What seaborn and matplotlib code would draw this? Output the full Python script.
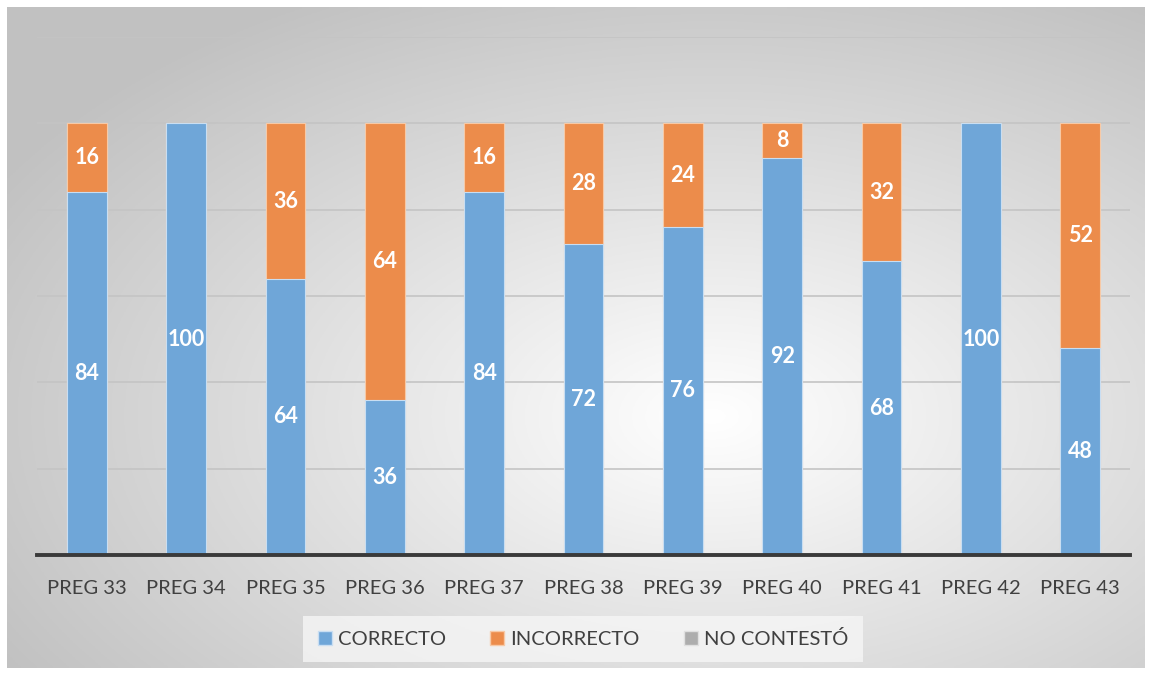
import numpy as np
import pandas as pd
import matplotlib
matplotlib.use("Agg")
import matplotlib.pyplot as plt
from matplotlib.patches import Patch
import seaborn as sns

# data (percent of answers)
preguntas = ["PREG 33", "PREG 34", "PREG 35", "PREG 36", "PREG 37", "PREG 38",
             "PREG 39", "PREG 40", "PREG 41", "PREG 42", "PREG 43"]
correcto = [84, 100, 64, 36, 84, 72, 76, 92, 68, 100, 48]
incorrecto = [16, 0, 36, 64, 16, 28, 24, 8, 32, 0, 52]
no_contesto = [0, 0, 0, 0, 0, 0, 0, 0, 0, 0, 0]
series = ["CORRECTO", "INCORRECTO", "NO CONTESTÓ"]

BLUE = "#6FA6D8"
ORANGE = "#EC8C4B"
GRAY = "#ADADAD"

sns.set_theme(style="white")
plt.rcParams["font.family"] = ["Lato", "DejaVu Sans"]

df = pd.DataFrame({"pregunta": preguntas, "correcto": correcto,
                   "incorrecto": incorrecto, "no_contesto": no_contesto})
df["c_i"] = df["correcto"] + df["incorrecto"]
df["total"] = df["c_i"] + df["no_contesto"]

fig = plt.figure(figsize=(11.52, 6.75), dpi=100)

# radial gradient background of the chart area
bg = fig.add_axes([7 / 1152, 7 / 675, 1138 / 1152, 661 / 675], zorder=0)
gx, gy = np.meshgrid(np.linspace(0, 1, 400), np.linspace(0, 1, 240))
r = np.sqrt(((gx - 0.62) / 0.75) ** 2 + ((gy - 0.62) / 0.75) ** 2)
shade = np.clip(1.0 - 0.25 * r, 0.76, 1.0)
bg.imshow(np.dstack([shade] * 3), aspect="auto", origin="upper", extent=[0, 1, 0, 1])
bg.axis("off")

ax = fig.add_axes([37 / 1152, 120 / 675, 1093 / 1152, 518 / 675], zorder=1)
ax.patch.set_alpha(0)

# stacked bars: draw cumulative totals back to front
sns.barplot(data=df, x="pregunta", y="total", color=GRAY, width=0.4,
            saturation=1, edgecolor="#f2f2f2", linewidth=0.8, ax=ax, zorder=3)
sns.barplot(data=df, x="pregunta", y="c_i", color=ORANGE, width=0.4,
            saturation=1, edgecolor="#f7c9a6", linewidth=0.8, ax=ax, zorder=3)
sns.barplot(data=df, x="pregunta", y="correcto", color=BLUE, width=0.4,
            saturation=1, edgecolor="#c9def2", linewidth=0.8, ax=ax, zorder=3)

for i, row in df.iterrows():
    if row["correcto"] > 0:
        ax.text(i, row["correcto"] / 2, f"{row['correcto']}", ha="center", va="center",
                color="white", fontsize=15.5, fontweight="bold", zorder=5)
    if row["incorrecto"] > 0:
        ax.text(i, row["correcto"] + row["incorrecto"] / 2, f"{row['incorrecto']}",
                ha="center", va="center", color="white", fontsize=15.5,
                fontweight="bold", zorder=5)

ax.set_ylim(0, 120)
ax.set_xlim(-0.5, len(preguntas) - 0.5)
ax.set_yticks([20, 40, 60, 80, 100, 120])
ax.yaxis.grid(True, color="#c4c4c4", linewidth=1.2, zorder=0)
ax.set_axisbelow(True)
ax.tick_params(axis="y", left=False, labelleft=False)
ax.tick_params(axis="x", bottom=False, labelsize=14.5, labelcolor="#404040", pad=12)
ax.set_xlabel("")
ax.set_ylabel("")
for s in ["top", "right", "left"]:
    ax.spines[s].set_visible(False)
ax.spines["bottom"].set_color("#3a3a3a")
ax.spines["bottom"].set_linewidth(2.8)
ax.spines["bottom"].set_zorder(6)

handles = [Patch(facecolor=BLUE, edgecolor="#c9def2"),
           Patch(facecolor=ORANGE, edgecolor="#f7c9a6"),
           Patch(facecolor=GRAY, edgecolor="#e0e0e0")]
leg = fig.legend(handles, series, loc="center", bbox_to_anchor=(583 / 1152, 1 - 639 / 675),
                 ncol=3, frameon=True, fontsize=14.5, handlelength=0.7, handleheight=0.7,
                 handletextpad=0.3, columnspacing=2.2, borderpad=0.7, fancybox=False)
leg.get_frame().set_facecolor("#f6f6f6")
leg.get_frame().set_edgecolor("none")
leg.get_frame().set_alpha(0.8)
for t in leg.get_texts():
    t.set_color("#404040")

fig.savefig("out.png", dpi=100)
